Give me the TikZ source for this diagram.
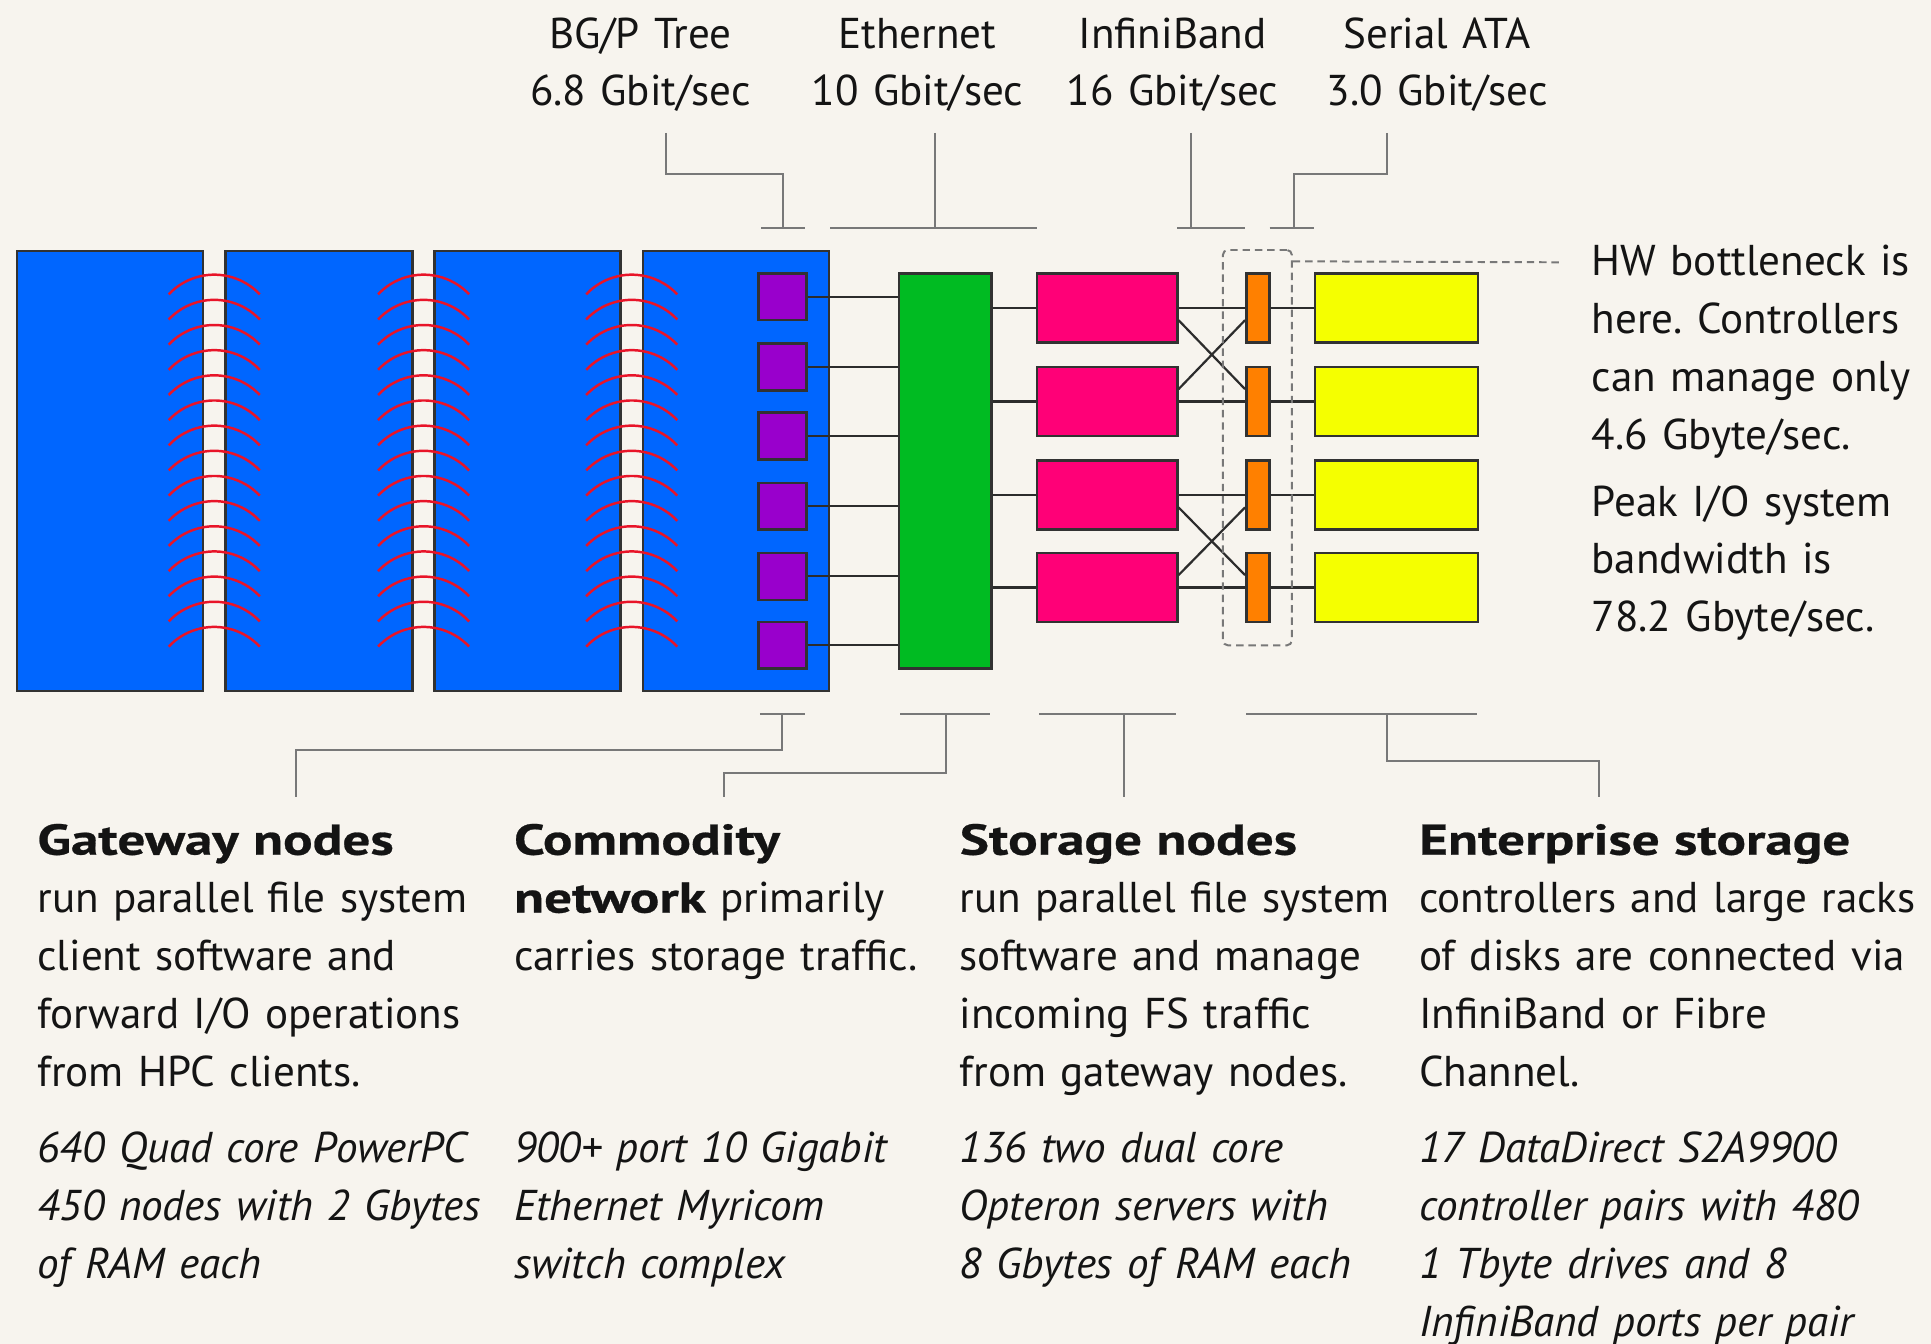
\documentclass[tikz,border=0pt]{standalone}
\usepackage{fontspec}
\setmainfont{PT Sans}
\newfontface\headfont{PT Sans Bold}[FakeStretch=1.28, FakeBold=0.6]
\usetikzlibrary{calc,fit}
\definecolor{bg}{RGB}{247,244,238}
\definecolor{cblue}{RGB}{0,102,255}
\definecolor{cpurple}{RGB}{153,0,204}
\definecolor{cgreen}{RGB}{0,187,34}
\definecolor{cpink}{RGB}{255,0,119}
\definecolor{corange}{RGB}{255,128,0}
\definecolor{cyellow}{RGB}{245,255,0}
\definecolor{cred}{RGB}{232,20,40}
\definecolor{boxline}{RGB}{50,50,50}
\definecolor{annline}{RGB}{120,120,120}
\definecolor{ink}{RGB}{20,20,20}
\frenchspacing
\begin{document}
\begin{tikzpicture}[x=0.5pt,y=-0.5pt,
  blk/.style={draw=boxline, line width=1pt, inner sep=0pt},
  conn/.style={draw=ink!90, line width=0.9pt},
  ann/.style={draw=annline, line width=0.8pt},
  dashline/.style={draw=annline, line width=0.8pt, dash pattern=on 3pt off 2pt},
  arcline/.style={draw=cred, line width=1pt},
  txt/.style={inner sep=0pt, text=ink, font=\fontsize{17.5}{23.5}\selectfont},
  toptxt/.style={txt, align=center, text width=120pt, anchor=base},
  blocktxt/.style={txt, align=left, text width=250pt, anchor=base west}]
\fill[bg] (0,0) rectangle (1568,1091);
\useasboundingbox (0,0) rectangle (1568,1091);

% gateway racks
\node[blk, fill=cblue, fit={(14,204)(165,561)}] (b1) {};
\node[blk, fill=cblue, fit={(183,204)(335,561)}] (b2) {};
\node[blk, fill=cblue, fit={(353,204)(504,561)}] (b3) {};
\node[blk, fill=cblue, fit={(522,204)(673,561)}] (b4) {};

% red arcs
\foreach \cx in {174,344,513}
  \foreach \i in {0,...,14}
    \draw[arcline] ({\cx-37},{239+\i*20.43}) arc[start angle=136.7, end angle=43.3, radius=25.4pt];

% gateway ports
\foreach \i/\y in {1/222,2/279,3/335,4/392,5/449,6/505}
  \node[blk, fill=cpurple, fit={(616,\y)(655,\y+38)}] (s\i) {};

% switch
\node[blk, fill=cgreen, fit={(730,222)(805,543)}] (gr) {};

\foreach \i in {1,...,6}
  \draw[conn] (s\i.east) -- (s\i.east -| gr.west);

% storage nodes, controllers, disks
\foreach \i/\y in {1/222,2/298,3/374,4/449}{
  \node[blk, fill=cpink, fit={(842,\y)(956,\y+56)}] (pk\i) {};
  \node[blk, fill=corange, fit={(1012,\y)(1031,\y+56)}] (or\i) {};
  \node[blk, fill=cyellow, fit={(1068,\y)(1200,\y+56)}] (ye\i) {};
}
\foreach \i in {1,...,4}{
  \draw[conn] (pk\i.west -| gr.east) -- (pk\i.west);
  \draw[conn] (pk\i.east) -- (or\i.west);
  \draw[conn] (or\i.east) -- (ye\i.west);
}
\draw[conn] ($(pk1.east)+(0,10)$) -- ($(or2.west)+(0,-10)$);
\draw[conn] ($(pk2.east)+(0,-10)$) -- ($(or1.west)+(0,10)$);
\draw[conn] ($(pk3.east)+(0,10)$) -- ($(or4.west)+(0,-10)$);
\draw[conn] ($(pk4.east)+(0,-10)$) -- ($(or3.west)+(0,10)$);

% bottleneck box
\node[draw=annline, line width=0.8pt, dash pattern=on 3pt off 2pt, rounded corners=2pt, inner sep=0pt, fit={(993,203)(1049,524)}] (bn) {};
\coordinate (bnend) at (1268,213);
\draw[dashline] ($(bn.north east)+(0,10)$) -- (bnend);

% top annotations
\node[toptxt] (l1) at (520,39) {BG/P Tree\\6.8 Gbit/sec};
\node[toptxt] (l2) at (745,39) {Ethernet\\10 Gbit/sec};
\node[toptxt] (l3) at (952,39) {InfiniBand\\16 Gbit/sec};
\node[toptxt] (l4) at (1167,39) {Serial ATA\\3.0 Gbit/sec};

\draw[ann] (541,108) -- (541,141) -- (636,141) -- (636,185);
\draw[ann] (618,185) -- (654,185);
\draw[ann] (759,108) -- (759,185);
\draw[ann] (674,185) -- (842,185);
\draw[ann] (967,108) -- (967,185);
\draw[ann] (956,185) -- (1011,185);
\draw[ann] (1126,108) -- (1126,141) -- (1051,141) -- (1051,185);
\draw[ann] (1031,185) -- (1067,185);

% bottom annotations
\draw[ann] (617,580) -- (654,580);
\draw[ann] (635,580) -- (635,609) -- (240,609) -- (240,647);
\draw[ann] (731,580) -- (804,580);
\draw[ann] (768,580) -- (768,628) -- (588,628) -- (588,647);
\draw[ann] (844,580) -- (955,580);
\draw[ann] (913,580) -- (913,647);
\draw[ann] (1012,580) -- (1199,580);
\draw[ann] (1126,580) -- (1126,618) -- (1298,618) -- (1298,647);

% right note
\node[blocktxt] (note) at (1292,224) {HW bottleneck is\\here. Controllers\\can manage only\\4.6 Gbyte/sec.\\[3.5pt]Peak I/O system\\bandwidth is\\78.2 Gbyte/sec.};

% bottom descriptions
\node[blocktxt] (d1) at (30,694) {{\headfont Gateway nodes}\\run parallel file system\\client software and\\forward I/O operations\\from HPC clients.\\[7.5pt]{\itshape 640 Quad core PowerPC\\450 nodes with 2 Gbytes\\of RAM each}};
\node[blocktxt] (d2) at (417,694) {{\headfont Commodity}\\{\headfont network} primarily\\carries storage traffic.\\\mbox{}\\\mbox{}\\[7.5pt]{\itshape 900+ port 10 Gigabit\\Ethernet Myricom\\switch complex}};
\node[blocktxt] (d3) at (779,694) {{\headfont Storage nodes}\\run parallel file system\\software and manage\\incoming FS traffic\\from gateway nodes.\\[7.5pt]{\itshape 136 two dual core\\Opteron servers with\\8 Gbytes of RAM each}};
\node[blocktxt] (d4) at (1152,694) {{\headfont Enterprise storage}\\controllers and large racks\\of disks are connected via\\InfiniBand or Fibre\\Channel.\\[7.5pt]{\itshape 17 DataDirect S2A9900\\controller pairs with 480\\1 Tbyte drives and 8\\InfiniBand ports per pair}};
\end{tikzpicture}
\end{document}
